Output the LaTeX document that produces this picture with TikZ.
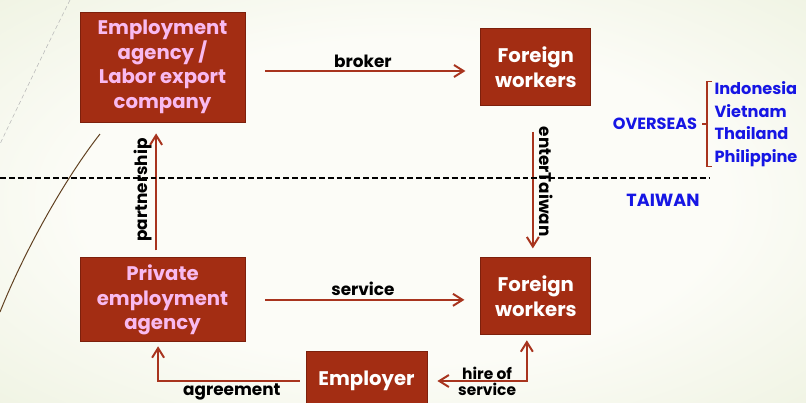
\documentclass[tikz,border=0pt]{standalone}
\usepackage{fontspec}
\setmainfont{Poppins}
\usetikzlibrary{positioning, calc, arrows.meta}

\definecolor{boxred}{RGB}{163,45,19}
\definecolor{boxedge}{RGB}{125,32,12}
\definecolor{arrred}{RGB}{168,52,30}
\definecolor{pinktxt}{RGB}{248,186,240}
\definecolor{bluetxt}{RGB}{22,22,228}
\definecolor{bgedge}{RGB}{214,226,186}
\definecolor{bgmid}{RGB}{252,252,247}
\pgfdeclareradialshading{slidebg}{\pgfpoint{0bp}{0bp}}{color(0bp)=(bgmid); color(20bp)=(bgmid); color(70bp)=(bgedge)}

\begin{document}
\begin{tikzpicture}[>={Straight Barb[length=2.4mm,width=3mm]}, thick]
\tikzset{
  blk/.style={draw=boxedge, line width=0.6pt, fill=boxred, text=white, align=center, inner sep=2pt, font=\fontsize{14}{17.5}\selectfont\bfseries},
  pblk/.style={blk, text=pinktxt, minimum width=41.25mm},
  fwblk/.style={blk, minimum width=27.5mm, minimum height=19.25mm},
  arr/.style={->, draw=arrred, line width=1.4pt},
  lbl/.style={font=\fontsize{12}{13}\selectfont\bfseries, text=black, inner sep=2pt},
  geo/.style={font=\fontsize{11.5}{16}\selectfont\bfseries, text=bluetxt, inner sep=0pt}
}

% slide background
\useasboundingbox (0,0) rectangle (20.15,-10.075);
\clip (0,0) rectangle (20.15,-10.075);
\shade[shading=slidebg] (0,0) rectangle (20.15,-10.075);
\draw[gray!55, densely dashed, line width=0.4pt] (1.75,0) .. controls (1.1,-1.3) .. (0,-3.6);
\draw[black!50!brown, line width=0.7pt] (2.5,-3.35) .. controls (1.6,-4.5) and (0.6,-6.3) .. (0,-7.8);

% row 1 : overseas
\node[pblk, minimum height=27.5mm] (agency) at (4.0625,-1.675) {Employment\\agency /\\Labor export\\company};
\node[fwblk, right=58.75mm of agency] (fwA) {Foreign\\workers};

% row 2 : taiwan
\node[pblk, minimum height=21mm, below=33.75mm of agency] (priv) {Private\\employment\\agency};
\node[fwblk, below right=0mm and 58.75mm of priv.north east] (fwB) {Foreign\\workers};

% row 3
\node[blk, minimum width=30.25mm, minimum height=15mm] (emp) at (9.1625,-9.525) {Employer};

% arrows
\draw[arr, shorten <=5mm, shorten >=3.75mm] ([yshift=-1mm]agency.east) -- ([yshift=-1mm]agency.east -| fwA.west)
  node[lbl, midway, above] {broker};
\draw[arr, shorten <=5mm, shorten >=4mm] (priv.east) -- (priv.east -| fwB.west)
  node[lbl, midway, above] {service};
\draw[arr, shorten <=1.75mm, shorten >=2.75mm] ([xshift=-1.6mm]priv.north) -- ([xshift=-1.6mm]agency.south)
  node[lbl, midway, anchor=south, rotate=90] {partnership};
\draw[arr, shorten <=6.5mm, shorten >=2.25mm] ([xshift=-0.75mm]fwA.south) -- ([xshift=-0.75mm]fwA.south |- fwB.north)
  node[lbl, midway, anchor=south, rotate=-90, inner ysep=4pt] {enterTaiwan};
\draw[arr, shorten <=1.5mm, shorten >=1mm] (emp.west) -| ([xshift=-1.1mm]priv.south)
  node[lbl, pos=0.25, below, inner sep=1pt] {agreement};
\draw[arr, <->, shorten <=2.5mm, shorten >=1.25mm] (emp.east) -| ([xshift=-2.25mm]fwB.south)
  node[lbl, pos=0.3, align=center, font=\fontsize{11}{11.5}\selectfont\bfseries] {hire of\\service};

% border line between the two sides
\draw[black, line width=1.2pt, dash pattern=on 4.2pt off 2.1pt] (0,-4.45) -- (17.75,-4.45);

% regions
\node[geo, align=left, anchor=west] (countries) at (17.85,-3.1) {Indonesia\\Vietnam\\Thailand\\Philippine};
\node[geo, font=\fontsize{11.5}{13}\selectfont\bfseries] (overseas) at (16.375,-3.1) {OVERSEAS};
\node[geo, font=\fontsize{12.5}{14}\selectfont\bfseries] (taiwan) at (16.575,-5.0) {TAIWAN};
\draw[arrred, line width=0.8pt] ([xshift=-0.5mm]countries.north west) -- ([xshift=-1.75mm]countries.north west)
  -- ([xshift=-1.75mm]countries.south west) -- ([xshift=-0.5mm]countries.south west);
\draw[arrred, line width=0.8pt] ([xshift=-1.75mm]countries.west) -- ([xshift=1mm]overseas.east);

\end{tikzpicture}
\end{document}
